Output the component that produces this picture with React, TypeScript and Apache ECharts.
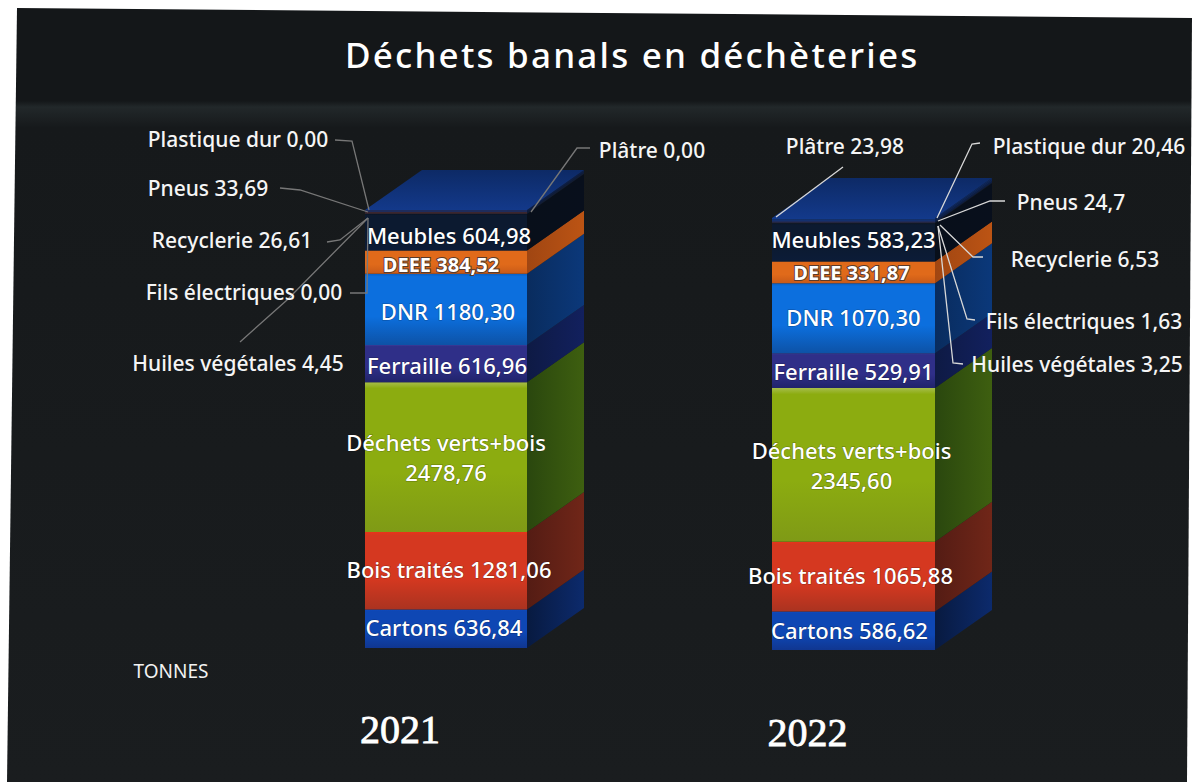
import React, { useEffect, useRef } from "react";
import * as echarts from "echarts";

const TITLE = "Déchets banals en déchèteries";
const UNIT = "TONNES";
const years = ["2021", "2022"];
const wasteNames = [
  "Cartons", "Bois traités", "Déchets verts+bois", "Ferraille", "DNR", "DEEE", "Meubles",
  "Huiles végétales", "Fils électriques", "Recyclerie", "Pneus", "Plastique dur", "Plâtre",
];
const values2021 = [636.84, 1281.06, 2478.76, 616.96, 1180.3, 384.52, 604.98, 4.45, 0, 26.61, 33.69, 0, 0];
const values2022 = [586.62, 1065.88, 2345.6, 529.91, 1070.3, 331.87, 583.23, 3.25, 1.63, 6.53, 24.7, 20.46, 23.98];
const valuesByYear = [values2021, values2022];

// Styling only: front gradient stops and side colours, by waste category.
const frontColors: string[][] = [
  ["#0d4cc4", "#0e47b4", "#103690"],
  ["#e8341a", "#d53820", "#aa3320"],
  ["#a6bd4a", "#8cac10", "#7f9a16"],
  ["#3b3b98", "#2f2f88", "#20236a"],
  ["#0a5fc0", "#0c6fde", "#0d52a6"],
  ["#e8701e", "#e06a1a", "#c85a18"],
  ["#0a1424", "#0c1a30", "#0c1c38"],
  ["#1a2030", "#1a2030", "#1a2030"],
  ["#2a1d28", "#2a1d28", "#2a1d28"],
  ["#3a2630", "#3a2630", "#3a2630"],
  ["#1e2c5c", "#1e2c5c", "#1e2c5c"],
  ["#14306e", "#14306e", "#14306e"],
  ["#123a8c", "#123a8c", "#123a8c"],
];
const sideColors: string[][] = [
  ["#081a40", "#0c2a6c"],
  ["#541c14", "#702618"],
  ["#2a470e", "#3e5f10"],
  ["#0e1a44", "#12205e"],
  ["#092c5e", "#0b387a"],
  ["#a04612", "#bc5414"],
  ["#080f1a", "#080f1c"],
  ["#080f1a", "#080f1c"],
  ["#080f1a", "#080f1c"],
  ["#101c36", "#101c36"],
  ["#0c1d44", "#0c1d44"],
  ["#0c2354", "#0c2354"],
  ["#0c265c", "#0c265c"],
];
const INSIDE_COUNT = 7;
const labelNudgesX = [
  [-2, 3, 0, 1, 2, -5, 3],
  [-4, -3, -2, 0, 0, -2, 0],
];
const labelNudgesY = [
  [-2, -2, 0, 1, 2, 2, 3],
  [-1, -2, 0, 0, -1, 0, -3],
];
const DEPTH_X = 57;
const DEPTH_Y = -40;
const FONT = "'Noto Sans', sans-serif";

// Annotation layout for the outside labels: label centre, then leader line points.
type Callout = { name: string; at: number[]; line: number[][] };
const callouts2021: Callout[] = [
  { name: "Plastique dur", at: [238, 139], line: [[335, 140], [352, 141], [369, 210]] },
  { name: "Pneus", at: [208, 188], line: [[280, 188], [300, 190], [368, 212]] },
  { name: "Recyclerie", at: [232, 240], line: [[327, 242], [340, 240], [368, 218]] },
  { name: "Fils électriques", at: [244, 292], line: [[350, 293], [367, 293], [368, 218]] },
  { name: "Huiles végétales", at: [238, 363], line: [[240, 342], [287, 300], [368, 218]] },
  { name: "Plâtre", at: [652, 150], line: [[590, 148], [577, 148], [531, 212]] },
];
const callouts2022: Callout[] = [
  { name: "Plâtre", at: [845, 146], line: [[843, 167], [776, 217]] },
  { name: "Plastique dur", at: [1089, 146], line: [[980, 143], [972, 144], [937, 218]] },
  { name: "Pneus", at: [1071, 202], line: [[1005, 201], [990, 201], [938, 221]] },
  { name: "Recyclerie", at: [1085, 259], line: [[983, 257], [973, 257], [940, 225]] },
  { name: "Fils électriques", at: [1084, 321], line: [[975, 320], [967, 319], [938, 226]] },
  { name: "Huiles végétales", at: [1077, 364], line: [[963, 364], [953, 363], [938, 226]] },
];
const calloutsByYear = [callouts2021, callouts2022];
const leaderColors = ["#777777", "#d8d8d8"];

const formatValue = (v: number) => (v === 24.7 ? "24,7" : v.toFixed(2).replace(".", ","));
const nameIndex = (name: string) => wasteNames.indexOf(name);

function percentRows(values: number[]) {
  const total = values.reduce((a, b) => a + b, 0);
  let cum = 0;
  return values.map((v) => {
    const start = (cum / total) * 100;
    cum += v;
    return [0, start, (cum / total) * 100];
  });
}

function makeRenderItem(yearIdx: number) {
  return (params: any, api: any) => {
    const i = params.dataIndex;
    const [x0, yBottom] = api.coord([0, api.value(1)]);
    const yTop = api.coord([0, api.value(2)])[1];
    const w = api.size([1, 0])[0];
    const left = x0 - w / 2;
    const right = x0 + w / 2;
    const children: any[] = [];
    const front = frontColors[i];
    const side = sideColors[i];
    if (yBottom - yTop > 0.01) {
      children.push({
        type: "polygon",
        shape: { points: [[right, yTop], [right + DEPTH_X, yTop + DEPTH_Y], [right + DEPTH_X, yBottom + DEPTH_Y], [right, yBottom]] },
        style: { fill: new echarts.graphic.LinearGradient(0, 0, 1, 0, [
          { offset: 0, color: side[0] }, { offset: 1, color: side[1] },
        ]) },
      });
      children.push({
        type: "rect",
        shape: { x: left, y: yTop, width: w, height: yBottom - yTop },
        style: { fill: new echarts.graphic.LinearGradient(0, 0, 0, 1, [
          { offset: 0, color: front[0] }, { offset: 0.04, color: front[1] },
          { offset: 0.6, color: front[1] }, { offset: 1, color: front[2] },
        ]) },
      });
    }
    if (i === wasteNames.length - 1) {
      children.push({
        type: "polygon",
        shape: { points: [[left, yTop], [left + DEPTH_X, yTop + DEPTH_Y], [right + DEPTH_X, yTop + DEPTH_Y], [right, yTop]] },
        style: { fill: new echarts.graphic.LinearGradient(0, 0, 0, 1, [
          { offset: 0, color: "#0d2a66" }, { offset: 1, color: "#13398a" },
        ]) },
      });
    }
    if (i < INSIDE_COUNT) {
      const v = valuesByYear[yearIdx][i];
      const text = i === 2
        ? `${wasteNames[i]}\n${formatValue(v)}`
        : `${wasteNames[i]} ${formatValue(v)}`;
      children.push({
        type: "text",
        z2: 10,
        style: {
          text,
          x: x0 + labelNudgesX[yearIdx][i],
          y: (yTop + yBottom) / 2 + labelNudgesY[yearIdx][i],
          align: "center",
          verticalAlign: "middle",
          fill: "#ffffff",
          fontFamily: FONT,
          fontSize: i === 5 ? 20 : 22,
          fontWeight: i === 5 ? 700 : 500,
          lineHeight: 30,
          stroke: i === 5 ? "#5a3a2a" : "rgba(0,0,0,0.35)",
          lineWidth: i === 5 ? 2 : 1,
        },
      });
    }
    return { type: "group", children };
  };
}

function buildGraphics() {
  const els: any[] = [
    {
      type: "polygon",
      z: -10,
      silent: true,
      shape: { points: [[17, 8], [1192, 18], [1187, 782], [7, 782]] },
      style: { fill: new echarts.graphic.LinearGradient(0, 0, 0, 1, [
        { offset: 0, color: "#141719" },
        { offset: 0.12, color: "#141719" },
        { offset: 0.128, color: "#22282a" },
        { offset: 0.155, color: "#16191b" },
        { offset: 1, color: "#1a1d1f" },
      ]) },
    },
    {
      type: "text",
      z: 5,
      style: { text: UNIT, x: 171, y: 671, align: "center", verticalAlign: "middle", fill: "#f2f2f2", fontFamily: FONT, fontSize: 19 },
    },
  ];
  calloutsByYear.forEach((list, y) => {
    list.forEach((c) => {
      const v = valuesByYear[y][nameIndex(c.name)];
      els.push({
        type: "polyline",
        z: 6,
        shape: { points: c.line },
        style: { stroke: leaderColors[y], lineWidth: 1.3, fill: "none" },
      });
      els.push({
        type: "text",
        z: 7,
        style: {
          text: `${c.name} ${formatValue(v)}`,
          x: c.at[0], y: c.at[1], align: "center", verticalAlign: "middle",
          fill: "#f5f5f5", fontFamily: FONT, fontSize: 21, fontWeight: 500,
        },
      });
    });
  });
  return els;
}

function xAxisFor(i: number, year: string, margin: number) {
  return {
    type: "category",
    gridIndex: i,
    data: [year],
    axisLine: { show: false },
    axisTick: { show: false },
    axisLabel: {
      margin,
      color: "#ffffff",
      fontFamily: "'Liberation Serif', serif",
      fontSize: 40,
      fontWeight: 400,
      textBorderColor: "#ffffff",
      textBorderWidth: 0.8,
      padding: [0, 92, 0, 0],
    },
  };
}

export default function App() {
  const ref = useRef<HTMLDivElement>(null);
  useEffect(() => {
    document.body.style.margin = "0";
    document.body.style.background = "#ffffff";
    const chart = echarts.init(ref.current!, undefined, { renderer: "svg" });
    chart.setOption({
      animation: false,
      backgroundColor: "transparent",
      title: {
        text: TITLE,
        left: 340,
        top: 32,
        textStyle: { color: "#ffffff", fontFamily: FONT, fontSize: 35, fontWeight: 500 },
      },
      grid: [
        { left: 365, width: 162, top: 210, height: 438 },
        { left: 772, width: 163, top: 218, height: 432 },
      ],
      xAxis: [xAxisFor(0, years[0], 61), xAxisFor(1, years[1], 62)],
      yAxis: [0, 1].map((i) => ({
        type: "value", gridIndex: i, min: 0, max: 100, show: false,
      })),
      graphic: { elements: buildGraphics() },
      series: valuesByYear.map((vals, y) => ({
        type: "custom",
        name: years[y],
        xAxisIndex: y,
        yAxisIndex: y,
        clip: false,
        silent: true,
        encode: { x: 0, y: [1, 2] },
        data: percentRows(vals),
        renderItem: makeRenderItem(y),
      })),
    });
    // The reference's title is widely spaced; the library has no letter-spacing option.
    ref.current!.querySelectorAll("text").forEach((t) => {
      if (t.textContent === TITLE) t.setAttribute("letter-spacing", "2.2");
    });
    return () => chart.dispose();
  }, []);
  return <div ref={ref} style={{ width: 1195, height: 784 }} />;
}
